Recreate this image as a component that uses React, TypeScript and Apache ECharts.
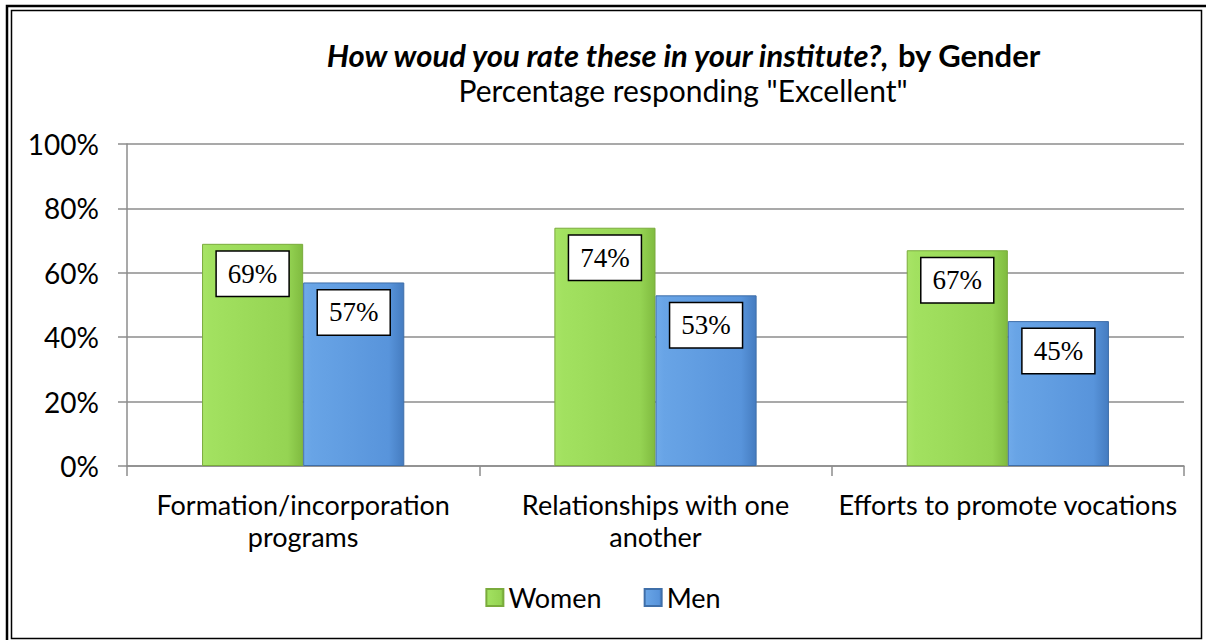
import React, { useEffect, useRef } from "react";
import * as echarts from "echarts";

const categories = [
  "Formation/incorporation\nprograms",
  "Relationships with one\nanother",
  "Efforts to promote vocations",
];
const seriesNames = ["Women", "Men"];
const women = [0.69, 0.74, 0.67];
const men = [0.57, 0.53, 0.45];

const FONT = "Lato, 'Open Sans', sans-serif";

export default function App() {
  const ref = useRef<HTMLDivElement>(null);
  useEffect(() => {
    document.body.style.margin = "0";
    const chart = echarts.init(ref.current!, null, { renderer: "svg" });
    const green = new echarts.graphic.LinearGradient(0, 0, 1, 0, [
      { offset: 0, color: "#a8e466" },
      { offset: 0.08, color: "#a2e160" },
      { offset: 0.85, color: "#95d453" },
      { offset: 1, color: "#80bb40" },
    ]);
    const blue = new echarts.graphic.LinearGradient(0, 0, 1, 0, [
      { offset: 0, color: "#70aaea" },
      { offset: 0.08, color: "#68a4e6" },
      { offset: 0.85, color: "#5894db" },
      { offset: 1, color: "#457cc0" },
    ]);
    const labelCfg = {
      show: true,
      position: "insideTop",
      distance: 8,
      formatter: (p: any) => Math.round(p.value * 100) + "%",
      backgroundColor: "#ffffff",
      borderColor: "#000000",
      borderWidth: 1.5,
      padding: [7, 11, 7, 11],
      fontFamily: "'Liberation Serif', 'Times New Roman', serif",
      fontSize: 27,
      lineHeight: 30,
      color: "#000",
    };
    chart.setOption({
      animation: false,
      backgroundColor: "#ffffff",
      graphic: [
        {
          type: "rect",
          shape: { x: 7, y: 6, width: 1210, height: 645 },
          style: { fill: "none", stroke: "#000", lineWidth: 2.5 },
          silent: true,
        },
        {
          type: "rect",
          shape: { x: 11.5, y: 10.5, width: 1190, height: 628 },
          style: { fill: "none", stroke: "#000", lineWidth: 1.5 },
          silent: true,
        },
        {
          type: "text",
          x: 683,
          y: 55,
          style: {
            text: "{a|How woud you rate these in your institute?,}{b| by Gender}",
            rich: {
              a: { fontStyle: "italic", fontWeight: "bold", fontSize: 31, fontFamily: FONT, fill: "#000" },
              b: { fontWeight: "bold", fontSize: 31, fontFamily: FONT, fill: "#000" },
            },
            align: "center",
            verticalAlign: "middle",
          },
        },
        {
          type: "text",
          x: 683,
          y: 90,
          style: {
            text: 'Percentage responding "Excellent"',
            fontSize: 30,
            fontFamily: FONT,
            fill: "#000",
            align: "center",
            verticalAlign: "middle",
          },
        },
      ],
      legend: {
        data: seriesNames,
        bottom: 24,
        left: "center",
        itemWidth: 17,
        itemHeight: 17,
        itemGap: 42,
        icon: "rect",
        textStyle: { fontSize: 27, fontFamily: FONT, color: "#000" },
      },
      grid: { left: 127, right: 22, top: 144, bottom: 174, containLabel: false },
      xAxis: {
        type: "category",
        data: categories,
        axisLine: { show: true, lineStyle: { color: "#8c8c8c", width: 1.5 } },
        axisTick: { show: true, interval: 0, length: 10, lineStyle: { color: "#8c8c8c", width: 1.5 } },
        axisLabel: {
          interval: 0,
          margin: 22,
          fontSize: 27,
          lineHeight: 32,
          fontFamily: FONT,
          color: "#000",
        },
      },
      yAxis: {
        type: "value",
        min: 0,
        max: 1,
        interval: 0.2,
        axisLine: { show: true, lineStyle: { color: "#8c8c8c", width: 1.5 } },
        axisTick: { show: true, length: 9, lineStyle: { color: "#8c8c8c", width: 1.5 } },
        splitLine: { show: true, lineStyle: { color: "#8c8c8c", width: 1.5 } },
        axisLabel: {
          formatter: (v: number) => Math.round(v * 100) + "%",
          margin: 28,
          fontSize: 28,
          fontFamily: FONT,
          color: "#000",
        },
      },
      series: [
        {
          name: seriesNames[0],
          type: "bar",
          data: women,
          barGap: "0%",
          barCategoryGap: "42.6%",
          itemStyle: { color: green, borderColor: "#7aab3c", borderWidth: 1 },
          label: labelCfg,
        },
        {
          name: seriesNames[1],
          type: "bar",
          data: men,
          itemStyle: { color: blue, borderColor: "#3f6fa9", borderWidth: 1 },
          label: labelCfg,
        },
      ],
    });
    return () => chart.dispose();
  }, []);
  return <div ref={ref} style={{ width: 1206, height: 640 }} />;
}
